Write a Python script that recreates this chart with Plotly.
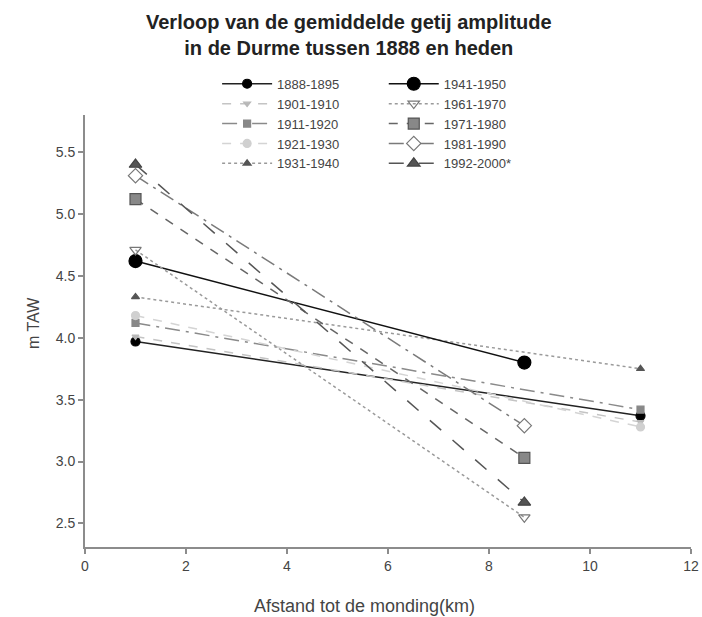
import plotly.graph_objects as go

# Data
labels = ["1888-1895", "1901-1910", "1911-1920", "1921-1930", "1931-1940",
          "1941-1950", "1961-1970", "1971-1980", "1981-1990", "1992-2000*"]
x_1888 = [1, 11];   y_1888 = [3.97, 3.37]
x_1901 = [1, 11];   y_1901 = [4.01, 3.32]
x_1911 = [1, 11];   y_1911 = [4.12, 3.42]
x_1921 = [1, 11];   y_1921 = [4.18, 3.28]
x_1931 = [1, 11];   y_1931 = [4.33, 3.75]
x_1941 = [1, 8.7];  y_1941 = [4.62, 3.80]
x_1961 = [1, 8.7];  y_1961 = [4.71, 2.55]
x_1971 = [1, 8.7];  y_1971 = [5.12, 3.03]
x_1981 = [1, 8.7];  y_1981 = [5.31, 3.29]
x_1992 = [1, 8.7];  y_1992 = [5.40, 2.67]

xs = [x_1888, x_1901, x_1911, x_1921, x_1931, x_1941, x_1961, x_1971, x_1981, x_1992]
ys = [y_1888, y_1901, y_1911, y_1921, y_1931, y_1941, y_1961, y_1971, y_1981, y_1992]

x_ticks = [0, 2, 4, 6, 8, 10, 12]
y_ticks = [2.5, 3.0, 3.5, 4.0, 4.5, 5.0, 5.5]

title_text = "<b>Verloop van de gemiddelde getij amplitude<br>in de Durme tussen 1888 en heden</b>"
x_title = "Afstand tot de monding(km)"
y_title = "m TAW"

styles = [
    dict(lc="#222222", lw=1.5, dash="solid", sym="circle", ms=9, mc="#000000", ml="#000000"),
    dict(lc="#c4c4c4", lw=1.5, dash="dash", sym="triangle-down", ms=6, mc="#b8b8b8", ml="#b8b8b8"),
    dict(lc="#8a8a8a", lw=1.5, dash="longdashdot", sym="square", ms=7, mc="#888888", ml="#888888"),
    dict(lc="#d4d4d4", lw=1.5, dash="dash", sym="circle", ms=8, mc="#d0d0d0", ml="#d0d0d0"),
    dict(lc="#9a9a9a", lw=1.5, dash="dot", sym="triangle-up", ms=7, mc="#555555", ml="#555555"),
    dict(lc="#111111", lw=1.5, dash="solid", sym="circle", ms=13, mc="#000000", ml="#000000"),
    dict(lc="#9a9a9a", lw=1.5, dash="dot", sym="triangle-down-open", ms=10, mc="#777777", ml="#777777"),
    dict(lc="#666666", lw=1.5, dash="dash", sym="square", ms=11, mc="#888888", ml="#555555"),
    dict(lc="#7a7a7a", lw=1.5, dash="longdashdot", sym="diamond", ms=11, mc="#ffffff", ml="#777777"),
    dict(lc="#555555", lw=1.5, dash="longdash", sym="triangle-up", ms=11, mc="#555555", ml="#444444"),
]
legend_ids = ["legend"] * 5 + ["legend2"] * 5

fig = go.Figure()
for lab, x, y, s, lg in zip(labels, xs, ys, styles, legend_ids):
    fig.add_trace(go.Scatter(
        x=x, y=y, name=lab, mode="lines+markers", legend=lg,
        line=dict(color=s["lc"], width=s["lw"], dash=s["dash"]),
        marker=dict(symbol=s["sym"], size=s["ms"], color=s["mc"],
                    line=dict(color=s["ml"], width=1.2)),
    ))

leg_common = dict(orientation="v", xanchor="left", yanchor="top", y=1.107,
                  itemwidth=50, tracegroupgap=0, bgcolor="rgba(255,255,255,0)",
                  font=dict(size=13, color="#444444"))

fig.update_layout(
    width=702, height=617,
    paper_bgcolor="white", plot_bgcolor="white",
    margin=dict(l=85, r=11, t=115, b=70),
    font=dict(family="Liberation Sans, Arial, sans-serif", color="#444444"),
    legend=dict(x=0.218, **leg_common),
    legend2=dict(x=0.493, **leg_common),
    showlegend=True,
    annotations=[
        dict(text=title_text, x=(349 - 85) / 606, y=(547 - 34.5) / 432,
             xref="paper", yref="paper", xanchor="center", yanchor="middle",
             showarrow=False, font=dict(size=20, color="#222222")),
        dict(text=x_title, x=(364 - 85) / 606, y=(547 - 606) / 432,
             xref="paper", yref="paper", xanchor="center", yanchor="middle",
             showarrow=False, font=dict(size=18, color="#444444")),
        dict(text=y_title, x=(33 - 85) / 606, y=(547 - 323) / 432, textangle=-90,
             xref="paper", yref="paper", xanchor="center", yanchor="middle",
             showarrow=False, font=dict(size=16, color="#444444")),
    ],
)
fig.update_xaxes(range=[0, 12], tickvals=x_ticks, automargin=False,
                 showgrid=False, zeroline=False, showline=True,
                 linecolor="#8c8c8c", linewidth=2, ticks="outside",
                 ticklen=5, tickcolor="#8c8c8c", tickwidth=1.5,
                 tickfont=dict(size=14, color="#444444"))
fig.update_yaxes(range=[2.31, 5.80], tickvals=y_ticks, automargin=False,
                 tickformat=".1f",
                 showgrid=False, zeroline=False, showline=True,
                 linecolor="#8c8c8c", linewidth=2, ticks="outside",
                 ticklen=5, tickcolor="#8c8c8c", tickwidth=1.5,
                 tickfont=dict(size=14, color="#444444"))

fig.write_html("out.html", config={"displayModeBar": False},
               post_script="document.body.style.margin='0px';document.body.style.overflow='hidden';")
